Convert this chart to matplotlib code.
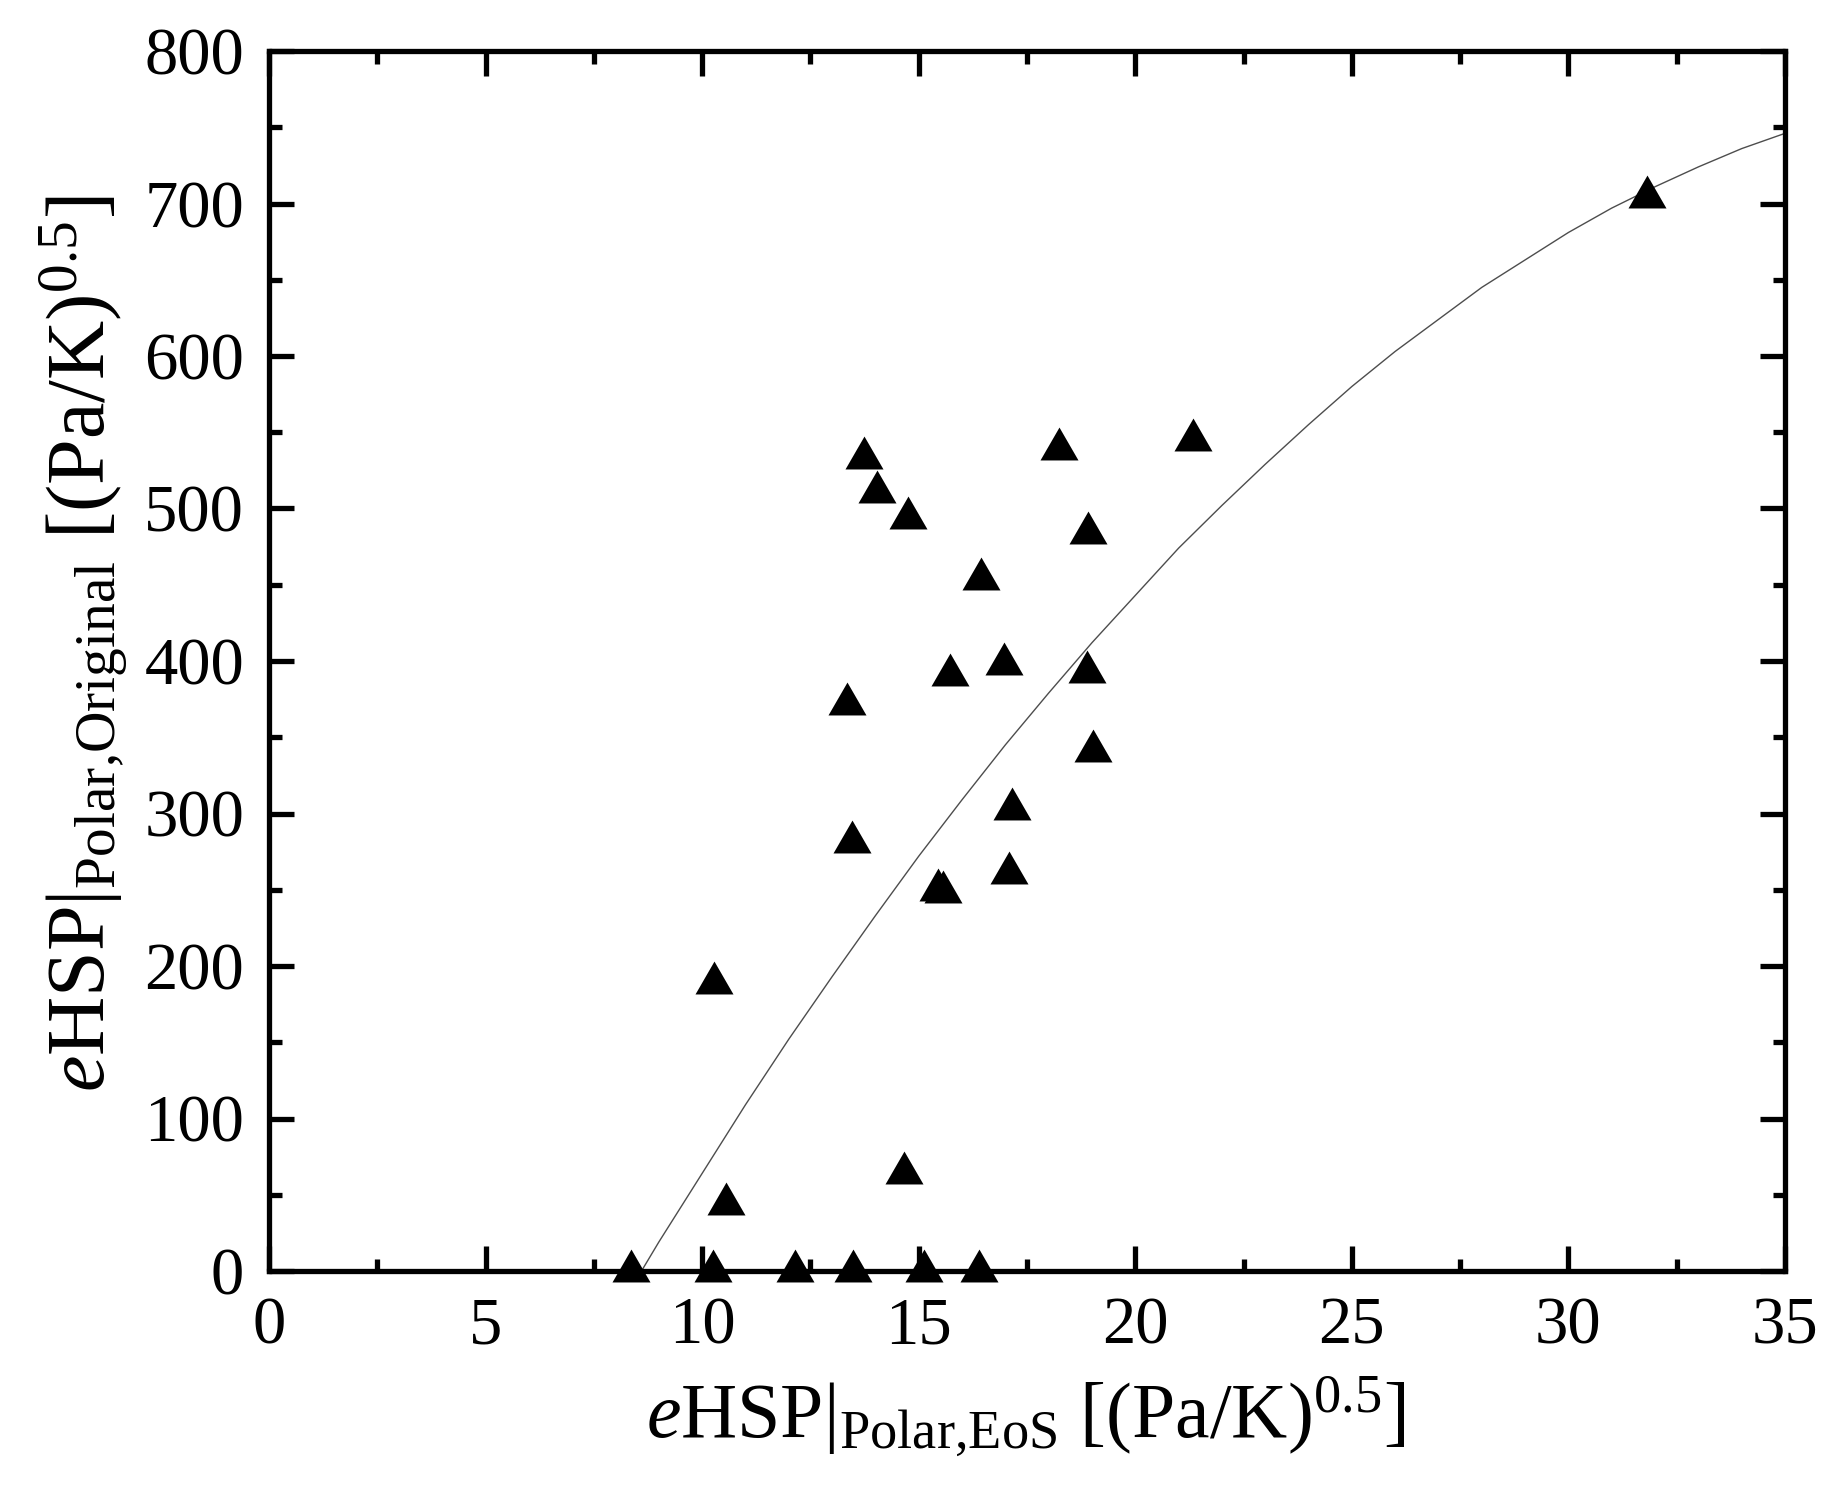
import numpy as np
import matplotlib
matplotlib.use("Agg")
import matplotlib.pyplot as plt
from matplotlib.markers import MarkerStyle

plt.rcParams['font.family'] = ['Liberation Serif', 'DejaVu Serif']
plt.rcParams['mathtext.fontset'] = 'custom'
plt.rcParams['mathtext.rm'] = 'Liberation Serif'
plt.rcParams['mathtext.it'] = 'Liberation Serif:italic'
plt.rcParams['mathtext.bf'] = 'Liberation Serif:bold'

# data points (eHSP polar EoS vs eHSP polar original)
x_eos = [8.36, 10.26, 12.14, 13.48, 15.12, 16.40, 10.28, 10.55, 14.66,
         13.34, 13.47, 13.74, 14.04, 14.75, 16.44, 15.72, 16.97, 17.16,
         17.08, 15.45, 15.55, 18.25, 18.90, 18.88, 19.02, 21.34, 31.81]
y_orig = [0, 0, 0, 0, 0, 0, 189, 44, 64.5,
          372, 281.5, 533, 511, 494, 454, 391, 398, 303,
          261, 250, 248.5, 539, 484, 393, 341, 545, 704]

# fitted curve
curve_x = [8.6, 9, 10, 11, 12, 13, 14, 15, 16, 17, 18, 19, 20, 21, 22,
           23, 24, 25, 26, 27, 28, 29, 30, 31, 32, 33, 34, 35]
curve_y = [0, 19, 64, 109, 152, 193, 233, 272, 309, 345, 379, 412, 443,
           474, 502, 529, 555, 580, 603, 624, 645, 663, 681, 697, 711,
           724, 736, 746]

xticks = [0, 5, 10, 15, 20, 25, 30, 35]
yticks = [0, 100, 200, 300, 400, 500, 600, 700, 800]

fig = plt.figure(figsize=(18.35, 14.90), dpi=100)
ax = fig.add_axes([269/1835, 1 - 1271/1490, (1785-269)/1835, (1271-51)/1490])

ax.plot(curve_x, curve_y, color='#4d4d4d', lw=1.0, zorder=2)

h = np.sqrt(3) / 6
tri = MarkerStyle([(-0.5, -h), (0.5, -h), (0.0, 2*h), (-0.5, -h)])
ax.plot(x_eos, y_orig, linestyle='none', marker=tri, markersize=31.6,
        markerfacecolor='black', markeredgewidth=0, color='black',
        zorder=3, clip_on=False)

ax.set_xlim(0, 35)
ax.set_ylim(0, 800)
ax.set_xticks(xticks)
ax.set_yticks(yticks)
ax.set_xticks(np.arange(2.5, 35, 5), minor=True)
ax.set_yticks(np.arange(50, 800, 100), minor=True)

for s in ax.spines.values():
    s.set_linewidth(3.8)
    s.set_zorder(4)
ax.tick_params(which='both', direction='in', top=True, right=True,
               width=3.8, labelsize=48, pad=18)
ax.tick_params(which='major', length=18)
ax.tick_params(which='minor', length=9)

ax.set_xlabel(r'$e$HSP$|_{\mathrm{Polar{,}EoS}}$ [(Pa/K)$^{0.5}$]', fontsize=56)
ax.set_ylabel(r'$e$HSP$|_{\mathrm{Polar{,}Original}}$ [(Pa/K)$^{0.5}$]', fontsize=59)
ax.xaxis.set_label_coords((1026-269)/1516, (1271-1436.7)/1220)
ax.xaxis.label.set_va('baseline')
ax.yaxis.set_label_coords((104-269)/1516, (1271-643.5)/1220)
ax.yaxis.label.set_va('baseline')

fig.savefig('out.png', dpi=100)
